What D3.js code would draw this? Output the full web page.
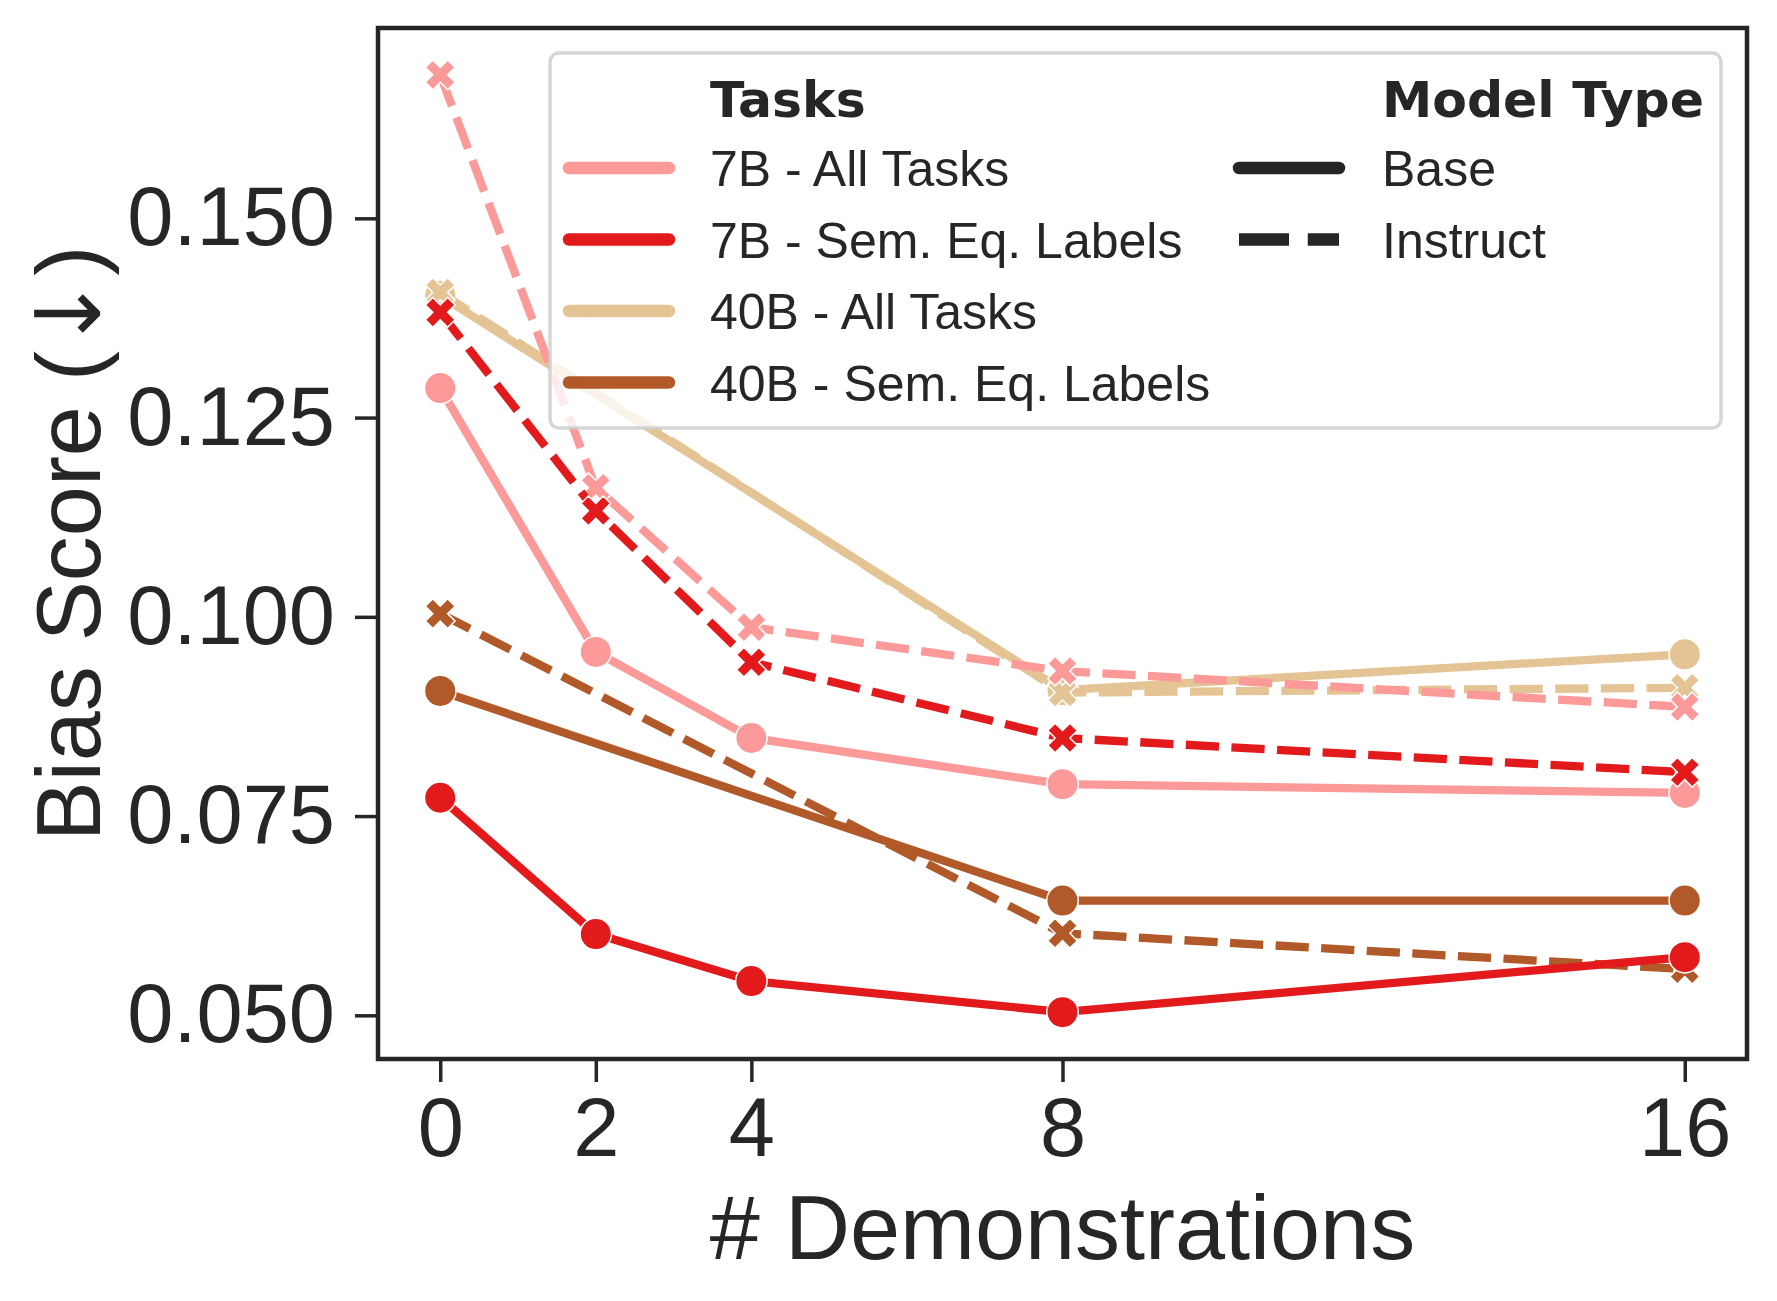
<!DOCTYPE html>
<html>
<head>
<meta charset="utf-8">
<script src="https://cdn.jsdelivr.net/npm/d3@7"></script>
<style>
  body { margin: 0; background: #fff; }
  text { fill: #262626; font-family: "Liberation Sans", Arial, sans-serif; }
</style>
</head>
<body>
<svg id="chart"></svg>
<script>
var width = 1777;
var height = 1301;

// x positions
var demos = [0, 2, 4, 8, 16];
var demos40 = [0, 8, 16];
var xTicks = [0, 2, 4, 8, 16];
var yTicks = [0.050, 0.075, 0.100, 0.125, 0.150];

// bias scores
var b7AllBase = [0.1287, 0.0956, 0.0848, 0.0790, 0.0779];
var b7AllInst = [0.1680, 0.1162, 0.0987, 0.0932, 0.0887];
var b7SemBase = [0.0773, 0.0602, 0.0543, 0.0504, 0.0573];
var b7SemInst = [0.1382, 0.1133, 0.0943, 0.0848, 0.0805];
var b40AllBase = [0.1403, 0.0908, 0.0953];
var b40AllInst = [0.1407, 0.0905, 0.0911];
var b40SemBase = [0.0907, 0.0644, 0.0644];
var b40SemInst = [0.1004, 0.0603, 0.0558];

var taskLabels = ["7B - All Tasks", "7B - Sem. Eq. Labels", "40B - All Tasks", "40B - Sem. Eq. Labels"];
var taskColors = ["#fb9a99", "#e31a1c", "#e4c494", "#b15928"];
var modelTypes = ["Base", "Instruct"];

var lw = 8.3;
var dash = [4 * lw, 1.5 * lw].join(",");

// draw order roughly as in the original figure
var series = [
  { task: 2, type: 0, xs: demos40, ys: b40AllBase },
  { task: 2, type: 1, xs: demos40, ys: b40AllInst },
  { task: 0, type: 0, xs: demos, ys: b7AllBase },
  { task: 0, type: 1, xs: demos, ys: b7AllInst },
  { task: 3, type: 0, xs: demos40, ys: b40SemBase },
  { task: 3, type: 1, xs: demos40, ys: b40SemInst },
  { task: 1, type: 0, xs: demos, ys: b7SemBase },
  { task: 1, type: 1, xs: demos, ys: b7SemInst }
];

var allY = [].concat(b7AllBase, b7AllInst, b7SemBase, b7SemInst, b40AllBase, b40AllInst, b40SemBase, b40SemInst);
var yMin = d3.min(allY), yMax = d3.max(allY);
var yPad = (yMax - yMin) * 0.05;

var plotL = 378, plotR = 1747, plotT = 28, plotB = 1059;

var xScale = d3.scaleLinear()
  .domain([-0.8, 16.8])
  .range([plotL, plotR]);

var yScale = d3.scaleLinear()
  .domain([yMin - yPad, yMax + yPad])
  .range([plotB, plotT]);

var svg = d3.select("#chart")
  .attr("width", width)
  .attr("height", height);

// Axes
var xAxis = d3.axisBottom(xScale)
  .tickValues(xTicks)
  .tickFormat(d3.format("d"))
  .tickSize(23)
  .tickPadding(14)
  .tickSizeOuter(0);

var yAxis = d3.axisLeft(yScale)
  .tickValues(yTicks)
  .tickFormat(d3.format(".3f"))
  .tickSize(23)
  .tickPadding(20)
  .tickSizeOuter(0);

var gx = svg.append("g")
  .attr("transform", `translate(0, ${plotB})`)
  .call(xAxis);

var gy = svg.append("g")
  .attr("transform", `translate(${plotL}, 0)`)
  .call(yAxis);

[gx, gy].forEach(function (g) {
  g.select(".domain").remove();
  g.selectAll(".tick line").attr("stroke", "#262626").attr("stroke-width", 3.5);
  g.selectAll(".tick text")
    .style("font-family", "'Liberation Sans', Arial, sans-serif")
    .style("font-size", "83px")
    .attr("fill", "#262626");
});
gx.selectAll(".tick text").attr("dy", "0.72em");

// Lines and markers
var line = d3.line()
  .x(d => xScale(d[0]))
  .y(d => yScale(d[1]));

var crossPath = d3.symbol().type(d3.symbolCross).size(551)();

series.forEach(function (s) {
  var pts = s.xs.map((x, i) => [x, s.ys[i]]);
  var color = taskColors[s.task];
  var g = svg.append("g");
  g.append("path")
    .attr("d", line(pts))
    .attr("fill", "none")
    .attr("stroke", color)
    .attr("stroke-width", lw)
    .attr("stroke-linejoin", "round")
    .attr("stroke-linecap", s.type === 0 ? "round" : "butt")
    .attr("stroke-dasharray", s.type === 0 ? null : dash);

  if (s.type === 0) {
    g.selectAll("circle")
      .data(pts)
      .enter()
      .append("circle")
        .attr("cx", d => xScale(d[0]))
        .attr("cy", d => yScale(d[1]))
        .attr("r", 15.75)
        .attr("fill", color)
        .attr("stroke", "#fff")
        .attr("stroke-width", 1.5);
  } else {
    g.selectAll(".mk")
      .data(pts)
      .enter()
      .append("path")
        .attr("class", "mk")
        .attr("d", crossPath)
        .attr("transform", d => `translate(${xScale(d[0])}, ${yScale(d[1])}) rotate(45)`)
        .attr("fill", color)
        .attr("stroke", "#fff")
        .attr("stroke-width", 1.5);
  }
});

// Frame
svg.append("rect")
  .attr("x", plotL)
  .attr("y", plotT)
  .attr("width", plotR - plotL)
  .attr("height", plotB - plotT)
  .attr("fill", "none")
  .attr("stroke", "#262626")
  .attr("stroke-width", 4.5);

// Axis labels
svg.append("text")
  .attr("x", (plotL + plotR) / 2)
  .attr("y", 1259)
  .style("text-anchor", "middle")
  .style("font-size", "90px")
  .text("# Demonstrations");

var yLabel = svg.append("text")
  .attr("transform", `translate(100, ${(plotT + plotB) / 2}) rotate(-90)`)
  .style("text-anchor", "middle")
  .style("font-size", "90px");
yLabel.append("tspan").text("Bias Score (");
yLabel.append("tspan").style("font-family", "'DejaVu Sans', sans-serif").text("\u2193");
yLabel.append("tspan").text(")");

// Legend
var legend = svg.append("g");
legend.append("rect")
  .attr("x", 550)
  .attr("y", 53)
  .attr("width", 1171)
  .attr("height", 375)
  .attr("rx", 9)
  .attr("fill", "#fff")
  .attr("fill-opacity", 0.8)
  .attr("stroke", "#cccccc")
  .attr("stroke-opacity", 0.8)
  .attr("stroke-width", 3.5);

var rowStep = 71.5;
var row0 = 168;
var titleY = row0 - rowStep;
var legLw = 12.5;

function legendTitle(x, text) {
  legend.append("text")
    .attr("x", x)
    .attr("y", titleY + 20)
    .style("font-family", "'DejaVu Sans', sans-serif")
    .style("font-weight", "bold")
    .style("font-size", "50.5px")
    .text(text);
}

legendTitle(710, "Tasks");
legendTitle(1382, "Model Type");

taskLabels.forEach(function (label, i) {
  var cy = row0 + i * rowStep;
  legend.append("line")
    .attr("x1", 569).attr("x2", 669)
    .attr("y1", cy).attr("y2", cy)
    .attr("stroke", taskColors[i])
    .attr("stroke-width", legLw)
    .attr("stroke-linecap", "round");
  legend.append("text")
    .attr("x", 710)
    .attr("y", cy + 18)
    .style("font-size", "50px")
    .text(label);
});

modelTypes.forEach(function (label, i) {
  var cy = row0 + i * rowStep;
  legend.append("line")
    .attr("x1", 1239).attr("x2", 1339)
    .attr("y1", cy).attr("y2", cy)
    .attr("stroke", "#262626")
    .attr("stroke-width", legLw)
    .attr("stroke-linecap", i === 0 ? "round" : "butt")
    .attr("stroke-dasharray", i === 0 ? null : [4 * legLw, 1.5 * legLw].join(","));
  legend.append("text")
    .attr("x", 1382)
    .attr("y", cy + 18)
    .style("font-size", "50px")
    .text(label);
});
</script>
</body>
</html>
